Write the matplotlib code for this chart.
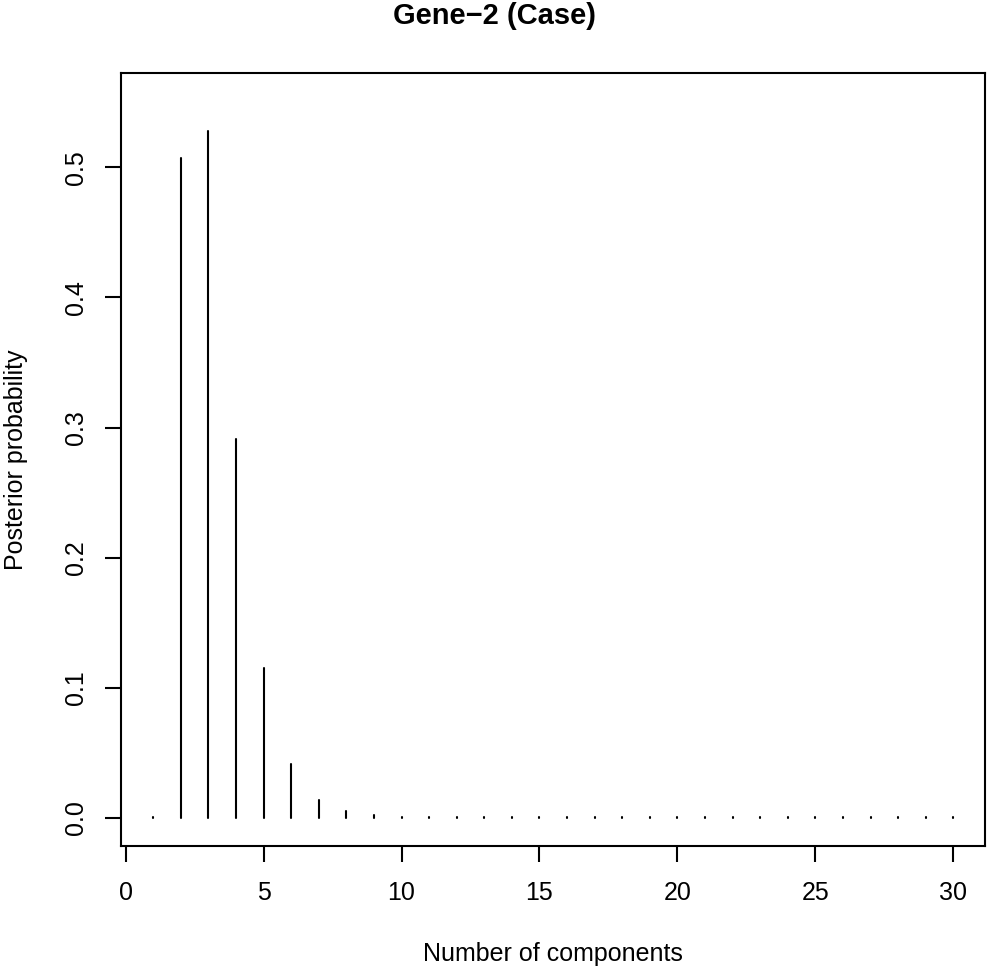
import matplotlib
matplotlib.use("Agg")
import matplotlib.pyplot as plt

plt.rcParams['font.family'] = ['Liberation Sans', 'DejaVu Sans']

# posterior probability for each number of components
components = list(range(1, 31))
posterior = [0.0004, 0.5069, 0.5279, 0.2910, 0.1150, 0.0413, 0.0138, 0.0056, 0.0023, 0.0009,
             0.0005, 0.0004, 0.0004, 0.0004, 0.0004, 0.0004, 0.0004, 0.0004, 0.0004, 0.0004,
             0.0004, 0.0004, 0.0004, 0.0004, 0.0004, 0.0004, 0.0004, 0.0004, 0.0004, 0.0004]
xticks = [0, 5, 10, 15, 20, 25, 30]
yticks = [0.0, 0.1, 0.2, 0.3, 0.4, 0.5]

fig = plt.figure(figsize=(9.88, 9.69), dpi=100)
ax = fig.add_axes([121 / 988, 1 - 846 / 969, 864 / 988, 773.3 / 969])

ax.vlines(components, 0, posterior, color="black", linewidth=1.5, capstyle="round")

ax.set_xlim(-0.17, 31.15)
ax.set_ylim(-0.0215, 0.5727)
ax.set_xticks(xticks)
ax.set_yticks(yticks)
ax.set_xticklabels([str(t) for t in xticks])
ax.set_yticklabels(["%.1f" % t for t in yticks], rotation=90, va="center")

for s in ax.spines.values():
    s.set_linewidth(1.5)
ax.tick_params(axis="both", direction="out", length=11.5, width=1.5, labelsize=18)
ax.tick_params(axis="x", pad=14)
ax.tick_params(axis="y", pad=12)

ax.set_xlabel("Number of components", fontsize=18, labelpad=26)
ax.set_ylabel("Posterior probability", fontsize=18, labelpad=26)
fig.text(0.5, 1 - 16 / 969, "Gene\u22122 (Case)", fontsize=21, fontweight="bold",
         ha="center", va="center")

fig.savefig("out.png", dpi=100)
